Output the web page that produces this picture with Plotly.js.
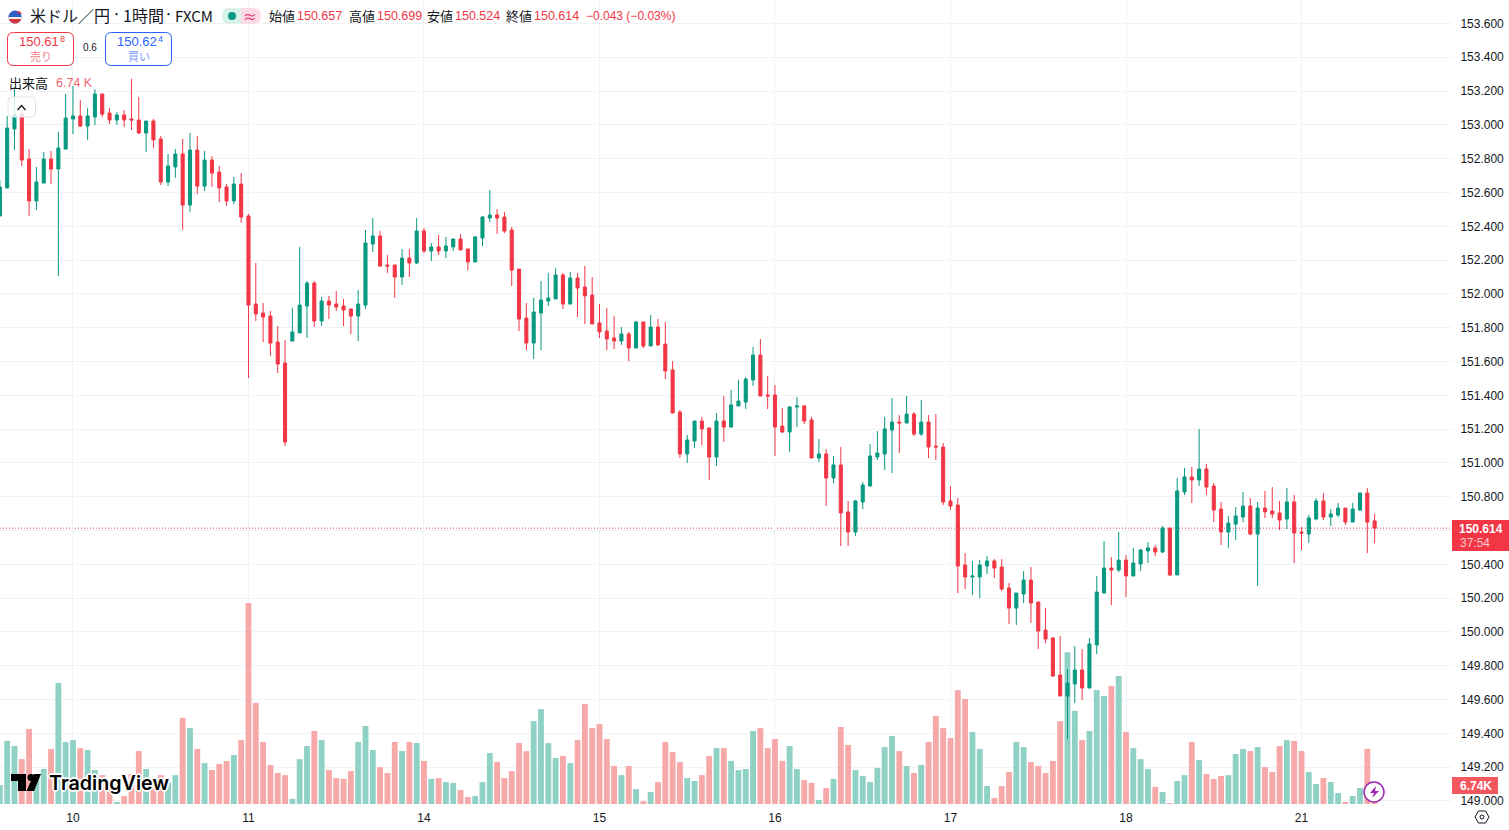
<!DOCTYPE html>
<html><head><meta charset="utf-8">
<script src="https://cdn.plot.ly/plotly-3.0.1.min.js"></script>
<style>html,body{margin:0;padding:0;background:#fff;overflow:hidden}#c{width:1509px;height:830px}</style>
</head><body><div id="c"></div>
<script>
const opens=[152.461,152.627,152.976,153.064,152.798,152.550,152.656,152.798,152.739,152.857,
153.035,153.053,152.993,153.047,153.183,153.070,153.029,153.059,153.035,153.029,
152.952,153.023,152.917,152.662,152.751,152.828,152.526,152.851,152.638,152.792,
152.721,152.633,152.550,152.650,152.461,151.940,151.887,151.869,151.715,151.591,
151.721,151.769,151.928,152.064,151.840,151.958,151.940,151.928,151.911,151.869,
151.934,152.295,152.343,152.171,152.171,152.100,152.212,152.183,152.372,152.254,
152.278,152.254,152.278,152.325,152.266,152.189,152.331,152.449,152.467,152.455,
152.378,152.147,151.857,151.709,151.887,151.958,151.970,152.112,151.940,152.094,
152.041,151.993,151.828,151.780,151.739,151.721,151.763,151.680,151.834,151.692,
151.804,151.703,151.550,151.301,151.053,151.130,151.248,151.207,151.035,151.248,
151.212,151.337,151.360,151.491,151.638,151.402,151.402,151.218,151.183,151.331,
151.337,151.254,151.029,151.053,150.911,150.988,150.710,150.591,150.769,150.863,
151.035,151.053,151.195,151.242,151.236,151.289,151.171,151.242,151.100,151.094,
150.775,150.751,150.396,150.325,150.325,150.390,150.420,150.384,150.260,150.141,
150.224,150.307,150.177,150.011,149.964,149.745,149.621,149.692,149.775,149.668,
149.923,150.230,150.378,150.366,150.425,150.331,150.402,150.479,150.497,150.473,
150.615,150.337,150.828,150.917,150.899,150.964,150.863,150.727,150.591,150.638,
150.680,150.745,150.579,150.733,150.715,150.704,150.668,150.769,150.591,150.579,
150.668,150.775,150.680,150.692,150.733,150.650,150.721,150.822,150.657];
const highs=[152.674,153.053,153.224,153.088,152.857,152.751,152.840,152.846,152.958,153.183,
153.230,153.147,153.100,153.212,153.183,153.100,153.076,153.088,153.272,153.165,
153.023,153.035,152.934,152.828,152.857,152.917,152.952,152.934,152.846,152.816,
152.757,152.650,152.692,152.715,152.473,152.183,151.946,151.899,151.810,151.727,
151.917,152.278,152.076,152.076,151.982,151.988,152.017,151.970,151.911,152.023,
152.378,152.449,152.372,152.230,152.171,152.266,152.266,152.449,152.390,152.301,
152.349,152.337,152.325,152.354,152.266,152.343,152.461,152.615,152.502,152.485,
152.396,152.147,151.946,151.976,152.076,152.124,152.153,152.124,152.130,152.124,
152.165,152.100,151.940,151.917,151.869,151.804,151.775,151.840,151.834,151.875,
151.851,151.834,151.603,151.313,151.165,151.248,151.272,151.207,151.295,151.396,
151.431,151.491,151.508,151.686,151.733,151.514,151.461,151.325,151.337,151.390,
151.343,151.272,151.142,151.082,151.041,151.094,150.775,150.781,150.887,151.112,
151.189,151.272,151.384,151.283,151.396,151.301,151.372,151.283,151.289,151.118,
150.863,150.792,150.467,150.420,150.425,150.449,150.431,150.431,150.289,150.230,
150.360,150.384,150.177,150.141,149.970,149.976,149.780,149.917,149.899,149.964,
150.331,150.538,150.443,150.591,150.455,150.497,150.491,150.532,150.514,150.627,
150.615,150.911,150.970,150.976,151.201,150.994,150.881,150.769,150.686,150.739,
150.828,150.792,150.769,150.834,150.857,150.775,150.852,150.810,150.621,150.692,
150.792,150.822,150.727,150.763,150.733,150.763,150.822,150.852,150.699];
const lows=[152.461,152.627,152.851,152.757,152.461,152.496,152.656,152.650,152.106,152.857,
152.946,152.988,152.911,152.999,153.047,153.005,152.999,152.988,152.970,152.946,
152.840,152.863,152.644,152.638,152.686,152.378,152.485,152.591,152.609,152.633,
152.544,152.520,152.532,152.420,151.502,151.840,151.715,151.633,151.532,151.100,
151.721,151.769,151.739,151.804,151.810,151.851,151.899,151.810,151.763,151.721,
151.911,152.248,152.159,152.124,151.976,152.053,152.100,152.177,152.242,152.195,
152.230,152.212,152.254,152.260,152.141,152.189,152.283,152.425,152.354,152.360,
152.047,151.780,151.668,151.615,151.668,151.928,151.970,151.911,151.940,151.863,
151.822,151.822,151.739,151.668,151.674,151.698,151.603,151.680,151.680,151.692,
151.692,151.496,151.295,151.029,151.000,151.088,151.106,150.899,150.982,151.124,
151.212,151.337,151.319,151.455,151.396,151.319,151.041,151.177,151.065,151.212,
151.230,151.029,151.005,150.745,150.881,150.508,150.508,150.568,150.727,150.863,
151.017,150.958,150.940,151.059,151.236,151.159,151.159,151.029,151.017,150.751,
150.721,150.230,150.254,150.218,150.201,150.343,150.319,150.242,150.047,150.041,
150.171,150.053,149.899,149.934,149.733,149.621,149.366,149.579,149.597,149.668,
149.869,150.230,150.159,150.354,150.207,150.331,150.360,150.408,150.449,150.467,
150.331,150.337,150.810,150.763,150.863,150.810,150.650,150.514,150.497,150.544,
150.650,150.573,150.272,150.674,150.674,150.603,150.609,150.408,150.485,150.526,
150.662,150.662,150.627,150.680,150.633,150.650,150.715,150.467,150.524];
const closes=[152.633,152.982,153.064,152.792,152.550,152.662,152.798,152.739,152.863,153.041,
153.053,152.993,153.053,153.183,153.064,153.029,153.059,153.029,153.029,152.952,
153.023,152.911,152.662,152.757,152.828,152.526,152.851,152.638,152.792,152.715,
152.627,152.550,152.650,152.455,151.934,151.881,151.863,151.709,151.585,151.124,
151.775,151.934,152.064,151.840,151.958,151.934,151.922,151.905,151.869,151.940,
152.301,152.343,152.165,152.165,152.100,152.212,152.183,152.372,152.254,152.278,
152.254,152.283,152.325,152.260,152.189,152.337,152.455,152.467,152.449,152.372,
152.141,151.851,151.709,151.893,151.964,151.976,152.112,151.940,152.094,152.035,
151.988,151.822,151.775,151.733,151.721,151.763,151.680,151.834,151.692,151.804,
151.698,151.544,151.295,151.053,151.136,151.248,151.201,151.035,151.248,151.212,
151.343,151.366,151.496,151.638,151.396,151.396,151.212,151.183,151.331,151.337,
151.248,151.029,151.053,150.911,150.988,150.704,150.591,150.775,150.869,151.041,
151.059,151.201,151.242,151.236,151.289,151.171,151.242,151.094,151.094,150.769,
150.745,150.390,150.325,150.331,150.396,150.420,150.378,150.254,150.141,150.230,
150.307,150.171,150.005,149.958,149.739,149.621,149.698,149.775,149.668,149.929,
150.236,150.378,150.366,150.425,150.331,150.408,150.485,150.497,150.473,150.615,
150.337,150.834,150.917,150.899,150.964,150.857,150.721,150.591,150.644,150.686,
150.745,150.579,150.733,150.710,150.698,150.662,150.769,150.585,150.585,150.674,
150.775,150.680,150.698,150.733,150.650,150.727,150.822,150.650,150.614];
const volumesK=[7.1,23.6,21.7,16.8,28.1,11.2,13.1,20.6,45.3,23.2,
23.9,20.9,20.2,12.7,10.8,7.1,0.75,3.0,11.2,19.8,
13.1,6.4,10.8,8.2,10.8,32.2,28.4,20.6,15.3,12.7,
15.0,16.1,18.3,23.9,75.2,37.8,23.2,14.6,11.6,10.8,
1.9,16.8,21.7,27.3,23.9,12.7,9.7,9.4,12.3,23.2,
29.2,20.2,13.8,11.6,23.2,19.8,23.2,22.8,16.1,9.4,
9.7,8.2,7.9,5.2,2.6,3.0,8.2,19.1,15.7,9.7,
12.3,22.8,19.8,31.0,35.5,22.8,17.2,18.0,15.3,23.9,
37.4,28.4,29.9,24.3,14.2,10.8,14.2,5.6,1.1,4.5,
8.2,23.2,19.4,15.7,9.7,8.6,10.8,18.0,20.9,20.9,
16.1,12.7,13.1,27.3,28.4,20.9,24.3,16.1,21.7,13.1,
9.0,7.9,1.5,6.0,9.4,28.8,22.1,12.7,10.5,8.2,
13.5,21.3,25.4,19.8,14.2,11.6,14.6,23.2,32.9,28.4,
24.7,42.6,39.3,26.9,20.6,6.74,2.2,6.74,12.0,23.2,
21.3,15.7,14.2,11.6,16.1,31.0,56.8,34.8,23.9,27.3,
42.6,40.4,44.1,47.9,26.9,20.9,16.8,13.1,6.4,4.5,
0.37,8.6,10.8,23.2,16.5,11.2,9.4,10.5,10.8,18.7,
20.6,19.8,21.3,13.8,12.0,21.7,23.9,23.6,19.8,12.0,
7.5,9.7,8.2,4.1,0.75,3.0,6.0,20.6,6.74];
const dayTickIndex=[0,24,48,72,96,120,144,168];
const dayTickLabels=['10','11','14','15','16','17','18','21'];
const lastPrice=150.614;

const barIndex=opens.map((_,i)=>i-10);
const UP='#089981',DOWN='#F23645';
const W=1452,H=805;
const px=x=>x/W, py=y=>1-y/H;
const FONT='"Liberation Sans","Noto Sans CJK JP",sans-serif';
const xRange=[-9.98,188.58];
const GRID='#F1F2F5';

const volColors=opens.map((o,i)=>closes[i]>=o?'#90D1C6':'#F7A8A8');

const traces=[
 {type:'bar',x:barIndex,y:volumesK,yaxis:'y',xaxis:'x',width:0.8,marker:{color:volColors,line:{width:0}},hoverinfo:'skip'},
 {type:'candlestick',x:barIndex,open:opens,high:highs,low:lows,close:closes,xaxis:'x',yaxis:'y2',whiskerwidth:0,
  increasing:{line:{color:UP,width:1},fillcolor:UP},decreasing:{line:{color:DOWN,width:1},fillcolor:DOWN}}
];

function path(pts){return pts.map((p,i)=>(i?'L':'M')+px(p[0])+','+py(p[1])).join(' ')+' Z';}
function rr(x0,y0,x1,y1,r){
 const P=(x,y)=>px(x)+','+py(y);
 return 'M'+P(x0+r,y0)+' L'+P(x1-r,y0)+' Q'+P(x1,y0)+' '+P(x1,y0+r)+' L'+P(x1,y1-r)+' Q'+P(x1,y1)+' '+P(x1-r,y1)+
  ' L'+P(x0+r,y1)+' Q'+P(x0,y1)+' '+P(x0,y1-r)+' L'+P(x0,y0+r)+' Q'+P(x0,y0)+' '+P(x0+r,y0)+' Z';
}
function S(d,fill,line,lw,op){return {type:'path',xref:'paper',yref:'paper',path:d,fillcolor:fill||'rgba(0,0,0,0)',line:{color:line||'rgba(0,0,0,0)',width:lw||0},opacity:op==null?1:op,layer:'above'};}
function C(cx,cy,r,fill,line,lw){return {type:'circle',xref:'paper',yref:'paper',x0:px(cx-r),x1:px(cx+r),y0:py(cy+r),y1:py(cy-r),fillcolor:fill,line:{color:line||'rgba(0,0,0,0)',width:lw||0},layer:'above'};}
function R(x0,y0,x1,y1,fill){return {type:'rect',xref:'paper',yref:'paper',x0:px(x0),x1:px(x1),y0:py(y1),y1:py(y0),fillcolor:fill,line:{width:0},layer:'above'};}

const shapes=[
 {type:'line',xref:'x',yref:'y2',x0:xRange[0],x1:xRange[1],y0:lastPrice,y1:lastPrice,line:{color:'#D9405E',width:1,dash:'1px,2px'},layer:'below'},
 R(1453,805,1509,830,'#ffffff'),
 R(1452,520,1509,551,'#F23645'),
 R(1452,777,1498,794,'#F4585F'),
 C(1374,792,10,'#ffffff','#9C27B0',1.5),
 S(path([[1376,786],[1370,793],[1374,793],[1372,798],[1379,791],[1375,791]]),'#9C27B0'),
 S(path([[1475,817],[1478.5,811],[1485.5,811],[1489,817],[1485.5,823],[1478.5,823]]),'#fff','#131722',1),
 C(1482,817,2,'#fff','#131722',1),
 C(15,17,6.5,'#2f5fc4'),
 S(path([[8.5,17],[21.5,17],[20.5,20.5],[18,23],[15,23.5],[12,23],[9.5,20.5]]),'#d8343f'),
 S(path([[8.7,17],[21.3,17],[21,19],[9,19]]),'#f3f3f3'),
 S(path([[17,11],[20,11.5],[22,14],[20.5,14],[17,12.5]]),'#d8343f'),
 S(rr(222,8,261,24,8),'#fbdbe6'),
 S('M'+px(241)+','+py(8)+' L'+px(230)+','+py(8)+' Q'+px(222)+','+py(8)+' '+px(222)+','+py(16)+' Q'+px(222)+','+py(24)+' '+px(230)+','+py(24)+' L'+px(241)+','+py(24)+' Z','#d8f2ec'),
 C(232,16,4,'#089981'),
 S(rr(7.5,32.5,73.5,65.5,6),'#ffffff',DOWN,1),
 S(rr(105.5,32.5,171.5,65.5,6),'#ffffff','#2962FF',1),
 S(rr(8,97,35.5,117,4),'rgba(255,255,255,0.82)','#E0E3EB',1),
 S('M'+px(17.5)+','+py(110)+' L'+px(21.5)+','+py(105.5)+' L'+px(25.5)+','+py(110),null,'#131722',1.3),
 S(path([[11,774],[26,774],[26,791],[18,791],[18,781],[11,781]]),'#000000'),
 C(31,777.5,3.5,'#000000'),
 S(path([[34,774],[41,774],[34,791],[26.5,791]]),'#000000')
];
function T(text,x,y,size,color,anchor,family,extra){
 return {text:text,xref:'paper',yref:'paper',x:px(x),y:py(y),showarrow:false,xanchor:anchor||'left',yanchor:'middle',
  borderpad:0,font:Object.assign({family:family||FONT,size:size,color:color},extra||{})};
}
const JP='"Noto Sans CJK JP","Liberation Sans",sans-serif';
const INK='#131722';
const halo='1px 1px 0 #fff,-1px -1px 0 #fff,1px -1px 0 #fff,-1px 1px 0 #fff,2px 0 1px #fff,-2px 0 1px #fff,0 2px 1px #fff,0 -2px 1px #fff';
const annotations=[
 T('米ドル／円',29,15,16,INK,'left',JP),
 T('·',116,13.5,16,INK,'center',JP),
 T('1時間',122,15,16,INK,'left',JP),
 T('·',168,13.5,16,INK,'center',JP),
 T('FXCM',174,15,15,INK,'left',JP),
 T('≈',250,15.5,14,'#E0245E','center',JP),
 T('始値',268,16,13,INK,'left',JP),T('150.657',296,16,12.5,DOWN),
 T('高値',348,16,13,INK,'left',JP),T('150.699',375.5,16,12.5,DOWN),
 T('安値',426,16,13,INK,'left',JP),T('150.524',453.5,16,12.5,DOWN),
 T('終値',505,16,13,INK,'left',JP),T('150.614',532.5,16,12.5,DOWN),
 T('−0.043 (−0.03%)',584.5,16,12,DOWN),
 T('150.61',18,41.5,13,DOWN),T('8',58.5,39,9,DOWN),
 T('売り',40.5,55.5,11,'#F0808A','center',JP),
 T('0.6',89.5,48,10,INK,'center'),
 T('150.62',116,41.5,13,'#2962FF'),T('4',156.5,39,9,'#2962FF'),
 T('買い',138.5,55.5,11,'#7A9BF5','center',JP),
 T('出来高',8,82,13,INK,'left',JP),
 T('6.74 K',55,82.5,12.5,'#F2666E'),
 T('150.614',1481,529,12,'#ffffff','center',FONT,{weight:700}),
 T('37:54',1475,543,12,'#FBC8CC','center'),
 T('6.74K',1475.5,786,12,'#ffffff','center',FONT,{weight:700}),
 T('TradingView',48,783,19.7,'#000000','left','Inter,"Liberation Sans",sans-serif',{shadow:halo,weight:600})
];

const layout={
 width:1509,height:830,margin:{l:0,r:57,t:0,b:25,pad:0},autosize:false,
 paper_bgcolor:'#ffffff',plot_bgcolor:'#ffffff',showlegend:false,dragmode:false,hovermode:false,
 boxgap:0.4,bargap:0.2,
 xaxis:{type:'linear',range:xRange,tickmode:'array',tickvals:dayTickIndex,ticktext:dayTickLabels,showgrid:true,gridcolor:GRID,gridwidth:1,
   zeroline:false,showline:false,ticks:'outside',ticklen:2,tickcolor:'rgba(0,0,0,0)',tickfont:{family:FONT,size:12,color:INK},
   rangeslider:{visible:false},fixedrange:true},
 yaxis:{range:[-0.37,300.7],visible:false,showgrid:false,zeroline:false,fixedrange:true},
 yaxis2:{overlaying:'y',side:'right',anchor:'x',range:[148.976,153.739],tick0:149,dtick:0.2,tickformat:'.3f',showgrid:true,gridcolor:GRID,gridwidth:1,
   zeroline:false,showline:false,ticks:'outside',ticklen:5,tickcolor:'rgba(0,0,0,0)',tickfont:{family:FONT,size:12,color:INK},fixedrange:true},
 shapes:shapes,annotations:annotations
};
Plotly.newPlot('c',traces,layout,{displayModeBar:false,staticPlot:true});
</script></body></html>
